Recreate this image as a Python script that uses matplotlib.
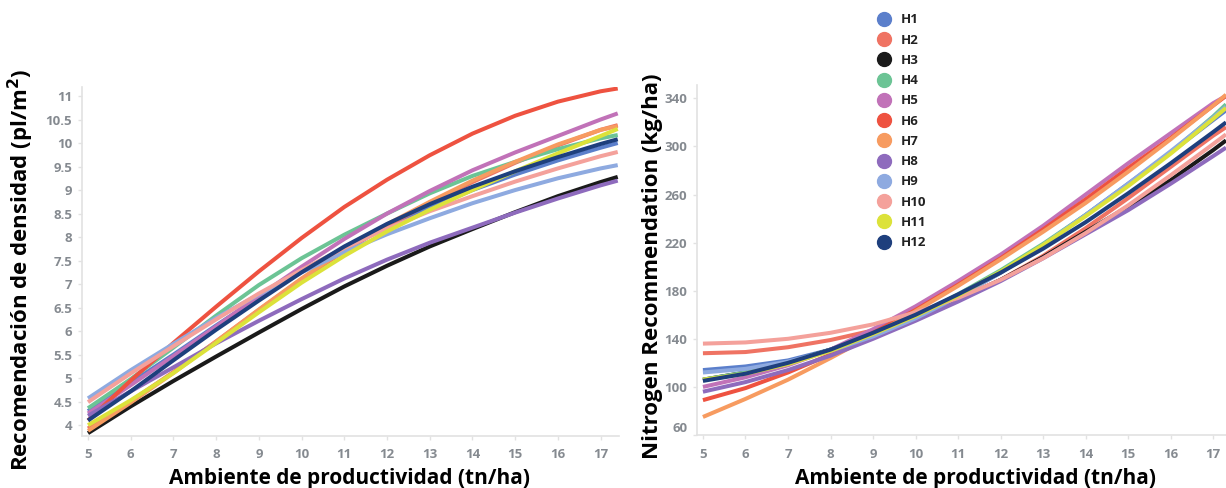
import matplotlib
matplotlib.use("Agg")
import matplotlib.pyplot as plt
from matplotlib.lines import Line2D
from matplotlib.ticker import FuncFormatter

# x positions (productivity environment, tn/ha)
x_left = [5, 6, 7, 8, 9, 10, 11, 12, 13, 14, 15, 16, 17, 17.4]
x_right = [5, 6, 7, 8, 9, 10, 11, 12, 13, 14, 15, 16, 17, 17.3]

hybrids = ["H1", "H2", "H3", "H4", "H5", "H6", "H7", "H8", "H9", "H10", "H11", "H12"]
colors = ["#5b7fcb", "#ef7363", "#1a1a1a", "#6cc495", "#c172b8", "#ee5240",
          "#f79b60", "#8e6bbd", "#8eaae0", "#f4a19b", "#dce23a", "#1e3f7d"]

# density recommendation (pl/m2)
dens_h1 = [4.30, 4.90, 5.50, 6.12, 6.72, 7.27, 7.77, 8.22, 8.63, 9.00, 9.33, 9.63, 9.90, 10.00]
dens_h2 = [3.93, 4.51, 5.13, 5.78, 6.45, 7.10, 7.70, 8.24, 8.72, 9.17, 9.58, 9.95, 10.28, 10.38]
dens_h3 = [3.83, 4.40, 4.94, 5.46, 5.97, 6.47, 6.95, 7.39, 7.80, 8.17, 8.53, 8.87, 9.17, 9.28]
dens_h4 = [4.36, 4.98, 5.65, 6.33, 6.98, 7.55, 8.05, 8.50, 8.93, 9.30, 9.60, 9.87, 10.10, 10.17]
dens_h5 = [4.25, 4.85, 5.47, 6.10, 6.75, 7.37, 7.96, 8.50, 8.98, 9.42, 9.80, 10.15, 10.50, 10.63]
dens_h6 = [4.10, 4.95, 5.75, 6.52, 7.27, 7.98, 8.64, 9.22, 9.74, 10.20, 10.58, 10.88, 11.10, 11.16]
dens_h7 = [3.88, 4.48, 5.11, 5.78, 6.46, 7.12, 7.73, 8.27, 8.75, 9.20, 9.60, 9.97, 10.28, 10.36]
dens_h8 = [4.20, 4.72, 5.23, 5.74, 6.22, 6.68, 7.12, 7.52, 7.88, 8.20, 8.52, 8.82, 9.10, 9.20]
dens_h9 = [4.57, 5.17, 5.73, 6.28, 6.78, 7.25, 7.68, 8.06, 8.40, 8.72, 9.00, 9.25, 9.46, 9.53]
dens_h10 = [4.49, 5.10, 5.68, 6.25, 6.80, 7.30, 7.77, 8.18, 8.55, 8.87, 9.18, 9.46, 9.72, 9.81]
dens_h11 = [4.00, 4.53, 5.11, 5.75, 6.40, 7.03, 7.60, 8.12, 8.58, 9.00, 9.40, 9.78, 10.15, 10.30]
dens_h12 = [4.10, 4.72, 5.38, 6.03, 6.65, 7.25, 7.80, 8.28, 8.70, 9.07, 9.40, 9.70, 9.98, 10.08]

# nitrogen recommendation (kg/ha)
nit_h1 = [114, 117, 122, 131, 143, 157, 175, 195, 218, 243, 269, 295, 322, 330]
nit_h2 = [128, 129, 133, 139, 147, 158, 172, 189, 209, 232, 257, 283, 309, 316]
nit_h3 = [106, 112, 120, 131, 144, 158, 173, 189, 208, 229, 250, 272, 297, 305]
nit_h4 = [106, 112, 120, 131, 144, 159, 177, 197, 219, 243, 268, 295, 325, 335]
nit_h5 = [100, 108, 118, 131, 148, 167, 188, 210, 234, 260, 286, 311, 336, 342]
nit_h6 = [89, 99, 112, 127, 145, 164, 185, 207, 231, 256, 282, 307, 334, 342]
nit_h7 = [75, 90, 106, 124, 143, 163, 184, 206, 229, 253, 279, 306, 334, 343]
nit_h8 = [96, 104, 114, 126, 140, 155, 171, 188, 207, 227, 247, 269, 292, 299]
nit_h9 = [112, 115, 121, 130, 142, 157, 175, 195, 218, 243, 269, 296, 324, 333]
nit_h10 = [136, 137, 140, 145, 152, 162, 174, 189, 207, 228, 251, 276, 302, 310]
nit_h11 = [106, 111, 119, 130, 144, 159, 176, 196, 218, 242, 267, 294, 323, 332]
nit_h12 = [105, 111, 120, 131, 145, 160, 177, 195, 215, 237, 261, 286, 312, 320]

dens = [dens_h1, dens_h2, dens_h3, dens_h4, dens_h5, dens_h6,
        dens_h7, dens_h8, dens_h9, dens_h10, dens_h11, dens_h12]
nit = [nit_h1, nit_h2, nit_h3, nit_h4, nit_h5, nit_h6,
       nit_h7, nit_h8, nit_h9, nit_h10, nit_h11, nit_h12]

dens_ticks = [4, 4.5, 5, 5.5, 6, 6.5, 7, 7.5, 8, 8.5, 9, 9.5, 10, 10.5, 11]
nit_ticks = [60, 100, 140, 180, 220, 260, 300, 340]
x_ticks = [5, 6, 7, 8, 9, 10, 11, 12, 13, 14, 15, 16, 17]

plt.rcParams['font.family'] = ['Open Sans', 'DejaVu Sans']

fig = plt.figure(figsize=(12.26, 4.88), dpi=100)
ax1 = fig.add_axes([0.0669, 0.1066, 0.438, 0.715])
ax2 = fig.add_axes([0.5685, 0.1086, 0.4315, 0.717])

for i in range(len(hybrids)):
    ax1.plot(x_left, dens[i], color=colors[i], lw=2.9, solid_capstyle='butt',
             solid_joinstyle='round')
    ax2.plot(x_right, nit[i], color=colors[i], lw=2.9, solid_capstyle='butt',
             solid_joinstyle='round')

tick_grey = "#858a90"
spine_grey = "#e2e2e2"

def style(ax):
    for s in ["top", "right"]:
        ax.spines[s].set_visible(False)
    for s in ["left", "bottom"]:
        ax.spines[s].set_color(spine_grey)
        ax.spines[s].set_linewidth(1.2)
    ax.tick_params(axis='both', colors=spine_grey, length=3, width=1,
                   labelcolor=tick_grey, labelsize=9.5)
    ax.tick_params(axis='x', pad=6)
    ax.tick_params(axis='y', pad=4)
    for lab in ax.get_xticklabels() + ax.get_yticklabels():
        lab.set_fontweight('bold')

ax1.set_xlim(4.86, 17.43)
ax1.set_ylim(3.77, 11.19)
ax1.set_xticks(x_ticks)
ax1.set_yticks(dens_ticks)
ax1.yaxis.set_major_formatter(FuncFormatter(lambda v, p: "{:g}".format(v)))
style(ax1)

ax2.set_xlim(4.86, 17.3)
ax2.set_ylim(60, 351)
ax2.set_xticks(x_ticks)
ax2.set_yticks(nit_ticks)
style(ax2)
ax2.get_yticklabels()[0].set_verticalalignment('bottom')

ax1.set_ylabel("Recomendación de densidad (pl/m$^{\\mathbf{2}}$)", fontsize=16,
               fontweight='bold', color='black')
ax1.yaxis.set_label_coords(-0.085, 0.476)
ax1.set_xlabel("Ambiente de productividad (tn/ha)", fontsize=15,
               fontweight='bold', color='black')
ax1.xaxis.set_label_coords(0.499, -0.092)

ax2.set_ylabel("Nitrogen Recommendation (kg/ha)", fontsize=16,
               fontweight='bold', color='black')
ax2.yaxis.set_label_coords(-0.064, 0.483)
ax2.set_xlabel("Ambiente de productividad (tn/ha)", fontsize=15,
               fontweight='bold', color='black')
ax2.xaxis.set_label_coords(0.526, -0.095)

handles = [Line2D([], [], ls='none', marker='o', markersize=10,
                  markerfacecolor=c, markeredgecolor=c) for c in colors]
leg = fig.legend(handles, hybrids, loc='upper left', bbox_to_anchor=(0.7153, 0.9725),
                 frameon=False, borderpad=0, borderaxespad=0, handlelength=1.0,
                 handletextpad=0.83, labelspacing=0.55,
                 prop={'size': 9.5, 'weight': 'bold'})
for t in leg.get_texts():
    t.set_color('#222222')

fig.savefig("out.png", dpi=100)
